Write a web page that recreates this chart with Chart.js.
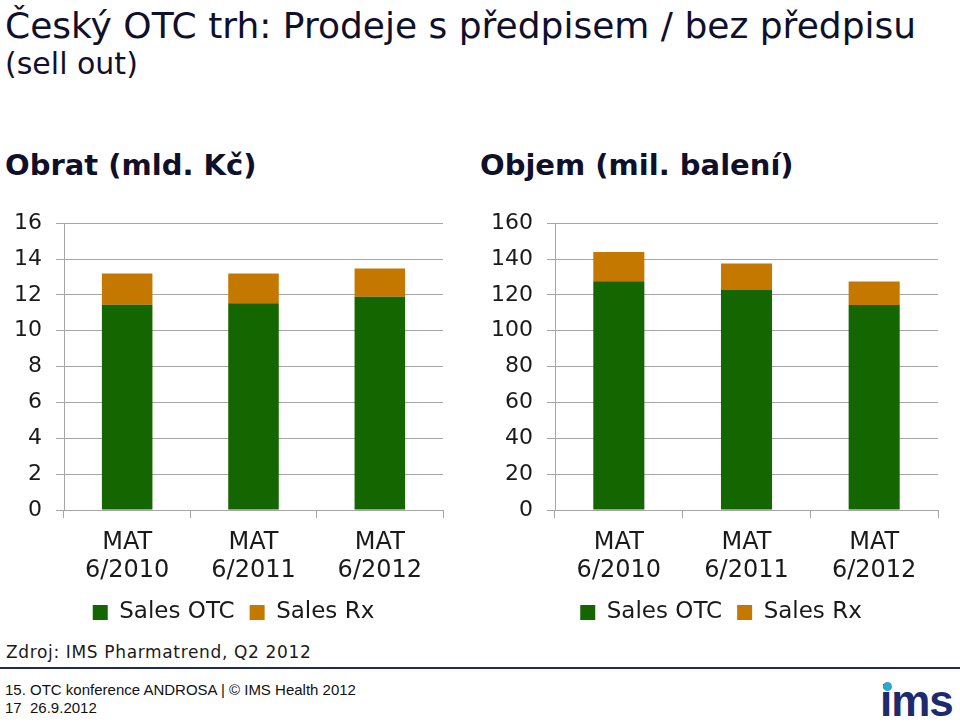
<!DOCTYPE html>
<html>
<head>
<meta charset="utf-8">
<script src="https://cdn.jsdelivr.net/npm/chart.js@4"></script>
<style>
  body { margin: 0; width: 960px; height: 723px; background: #fff; position: relative; overflow: hidden;
         font-family: "DejaVu Sans", Verdana, sans-serif; color: #10102a; }
  .abs { position: absolute; white-space: nowrap; }
  #title1 { left: 5px; top: 8px; font-size: 36px; line-height: 36px; }
  #title2 { left: 5px; top: 49px; font-size: 30px; line-height: 30px; }
  .sub { top: 151px; font-size: 29px; line-height: 29px; font-weight: bold; }
  #src { left: 6px; top: 644px; font-size: 17px; line-height: 17px; letter-spacing: 0.65px; color: #1a1a1a; }
  #rule { left: 0; top: 667px; width: 960px; height: 2px; background: #1e2a5a; }
  #foot { left: 5px; top: 681px; font-family: "Liberation Sans", sans-serif; font-size: 15px; line-height: 18px; color: #111; }
  #logo { left: 880px; top: 676px; font-family: "Liberation Sans", sans-serif; font-weight: bold; font-size: 44px;
          color: #1e2a6e; letter-spacing: -1px; }
  #dot { left: 883px; top: 682px; width: 9px; height: 9px; border-radius: 50%; background: #2aa7d6; }
  canvas { position: absolute; }
</style>
</head>
<body>
<div id="title1" class="abs">Český OTC trh: Prodeje s předpisem / bez předpisu</div>
<div id="title2" class="abs">(sell out)</div>
<div class="abs sub" style="left:5px">Obrat (mld. Kč)</div>
<div class="abs sub" style="left:480px">Objem (mil. balení)</div>
<div style="position:absolute;left:0;top:196px;width:460px;height:438px"><canvas id="leftChart"></canvas></div>
<div style="position:absolute;left:470px;top:196px;width:490px;height:438px"><canvas id="rightChart"></canvas></div>
<div id="src" class="abs">Zdroj: IMS Pharmatrend, Q2 2012</div>
<div id="rule" class="abs"></div>
<div id="foot" class="abs">15. OTC konference ANDROSA | © IMS Health 2012<br>17&nbsp;&nbsp;26.9.2012</div>
<div id="logo" class="abs">ims</div>
<div id="dot" class="abs"></div>
<script>
const periods = [["MAT", "6/2010"], ["MAT", "6/2011"], ["MAT", "6/2012"]];

// Obrat (mld. Kč)
const turnoverOtc = [11.45, 11.53, 11.9];
const turnoverRx = [1.75, 1.67, 1.57];

// Objem (mil. balení)
const volumeOtc = [127.6, 122.8, 114.4];
const volumeRx = [16.4, 14.7, 13.1];

const green = "#146600";
const orange = "#c47800";
const gridColor = "#a6a6a6";
const font = "'DejaVu Sans', Verdana, sans-serif";

// nudge the legend sideways (it is centred on the plot box otherwise)
const legendShift = {
  id: "legendShift",
  afterLayout(chart, args, opts) {
    if (chart.legend) {
      chart.legend.left += opts.dx || 0;
      chart.legend.right += opts.dx || 0;
    }
  }
};

function makeChart(id, otc, rx, max, step, axisWidth, padRight, legendDx) {
  return new Chart(document.getElementById(id), {
    type: "bar",
    data: {
      labels: periods,
      datasets: [
        { label: "Sales OTC", data: otc, backgroundColor: green, categoryPercentage: 1, barPercentage: 0.4 },
        { label: "Sales Rx", data: rx, backgroundColor: orange, categoryPercentage: 1, barPercentage: 0.4 }
      ]
    },
    plugins: [legendShift],
    options: {
      responsive: true,
      maintainAspectRatio: false,
      animation: false,
      layout: { padding: { top: 8, right: padRight, left: 0, bottom: 0 } },
      plugins: {
        tooltip: { enabled: false },
        legendShift: { dx: legendDx },
        legend: {
          position: "bottom",
          labels: {
            font: { family: font, size: 23 },
            color: "#1a1a1a",
            boxWidth: 15,
            boxHeight: 15,
            padding: 15
          }
        }
      },
      scales: {
        x: {
          stacked: true,
          afterFit: (scale) => { scale.height = 76; },
          grid: { display: true, drawOnChartArea: false, offset: true, color: gridColor, tickLength: 8 },
          border: { color: gridColor },
          ticks: { font: { family: font, size: 24, lineHeight: 1.2 }, color: "#1a1a1a", padding: 10, maxRotation: 0 }
        },
        y: {
          stacked: true,
          min: 0,
          max: max,
          afterFit: (scale) => { scale.width = axisWidth; },
          grid: { color: gridColor, tickLength: 8 },
          border: { color: gridColor },
          ticks: { stepSize: step, font: { family: font, size: 22 }, color: "#1a1a1a", padding: 14 }
        }
      }
    }
  });
}

makeChart("leftChart", turnoverOtc, turnoverRx, 16, 2, 64, 17, 12);
makeChart("rightChart", volumeOtc, volumeRx, 160, 20, 85, 22, 17);
</script>
</body>
</html>
